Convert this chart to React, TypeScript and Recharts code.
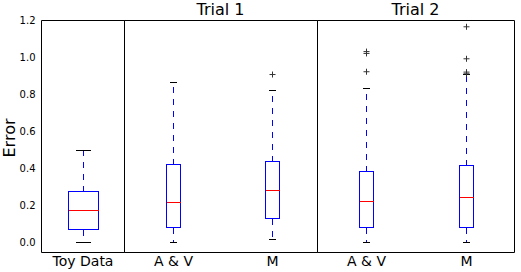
import React from 'react';
import { ComposedChart, Bar, Scatter, XAxis, YAxis } from 'recharts';

const yTicks = [0, 0.2, 0.4, 0.6, 0.8, 1.0, 1.2];
const yDomain = [-0.054, 1.2];

const toyNames = ['Toy Data'];
const toyLow = [0.0];
const toyQ1 = [0.069];
const toyMedian = [0.171];
const toyQ3 = [0.274];
const toyHigh = [0.5];
const toyOutliers: number[][] = [[]];

const trialNames = ['A & V', 'M'];

const trial1Low = [0.0, 0.016];
const trial1Q1 = [0.079, 0.128];
const trial1Median = [0.215, 0.279];
const trial1Q3 = [0.42, 0.436];
const trial1High = [0.863, 0.822];
const trial1Outliers = [[], [0.908]];

const trial2Low = [0.0, 0.0];
const trial2Q1 = [0.079, 0.079];
const trial2Median = [0.22, 0.242];
const trial2Q3 = [0.382, 0.414];
const trial2High = [0.831, 0.906];
const trial2Outliers = [[1.032, 1.022, 0.923], [1.166, 0.993, 0.921, 0.912]];

const makeRows = (names: string[], lo: number[], q1: number[], med: number[], q3: number[], hi: number[]) =>
  names.map((name, i) => ({ name, pos: i + 1, range: [lo[i], hi[i]], lo: lo[i], q1: q1[i], med: med[i], q3: q3[i], hi: hi[i] }));

const makeOutliers = (outliers: number[][]) =>
  outliers.flatMap((vals, i) => vals.map(v => ({ pos: i + 1, name: '', val: v })));

const snap = (v: number) => Math.round(v - 0.5) + 0.5;

const BLUE = '#0000ff';
const RED = '#ff0000';

function BoxShape(props: any) {
  const { x, y, width, height, payload } = props;
  const { lo, q1, med, q3, hi } = payload;
  const py = (v: number) => snap(y + (height * (hi - v)) / (hi - lo));
  const left = snap(x);
  const right = snap(x + width);
  const cx = snap(x + width / 2);
  const cap = width / 4;
  return (
    <g shapeRendering="crispEdges">
      <line x1={cx} x2={cx} y1={py(q3)} y2={py(hi)} stroke={BLUE} strokeWidth={1} strokeDasharray="6 6" />
      <line x1={cx} x2={cx} y1={py(q1)} y2={py(lo)} stroke={BLUE} strokeWidth={1} strokeDasharray="6 6" />
      <line x1={cx - cap} x2={cx + cap} y1={py(hi)} y2={py(hi)} stroke="#000" strokeWidth={1} />
      <line x1={cx - cap} x2={cx + cap} y1={py(lo)} y2={py(lo)} stroke="#000" strokeWidth={1} />
      <rect x={left} y={py(q3)} width={right - left} height={py(q1) - py(q3)} fill="none" stroke={BLUE} strokeWidth={1} />
      <line x1={left} x2={right} y1={py(med)} y2={py(med)} stroke={RED} strokeWidth={1} />
    </g>
  );
}

function PlusShape(props: any) {
  const { cx, cy } = props;
  return <path d={`M${cx - 3},${cy}h6M${cx},${cy - 3}v6`} stroke="#333" strokeWidth={1} fill="none" />;
}

const axisStroke = { stroke: '#000' };

function Panel(props: any) {
  const { left, width, margin, rows, outliers, names, numeric, xDomain, barSize, showY } = props;
  const xProps: any = numeric
    ? { type: 'number', dataKey: 'pos', domain: xDomain, ticks: [1, 2], allowDataOverflow: true }
    : { type: 'category', dataKey: 'name' };
  return (
    <div style={{ position: 'absolute', left, top: 0 }}>
      <ComposedChart width={width} height={272} data={rows} margin={margin}>
        <XAxis
          xAxisId="B"
          {...xProps}
          orientation="bottom"
          height={19.5}
          axisLine={false}
          tickLine={false}
          tickSize={0}
          tickMargin={4}
          tickFormatter={(v: any) => (numeric ? names[v - 1] : v)}
          tick={{ fill: '#000', fontSize: 14 }}
        />
        <XAxis xAxisId="BM" {...xProps} orientation="bottom" mirror tick={false} tickSize={4} axisLine={axisStroke} tickLine={axisStroke} />
        <XAxis xAxisId="TM" {...xProps} orientation="top" mirror tick={false} tickSize={4} axisLine={axisStroke} tickLine={axisStroke} />
        {showY && (
          <YAxis
            yAxisId="lab"
            orientation="left"
            width={41.5}
            type="number"
            domain={yDomain}
            ticks={yTicks}
            allowDataOverflow
            axisLine={false}
            tickLine={false}
            tickSize={0}
            tickMargin={6}
            tickFormatter={(v: number) => v.toFixed(1)}
            tick={{ fill: '#000', fontSize: 10 }}
          />
        )}
        <YAxis yAxisId="L" orientation="left" mirror type="number" domain={yDomain} ticks={yTicks} allowDataOverflow tick={false} tickSize={4} axisLine={axisStroke} tickLine={axisStroke} />
        <YAxis yAxisId="R" orientation="right" mirror type="number" domain={yDomain} ticks={yTicks} allowDataOverflow tick={false} tickSize={4} axisLine={axisStroke} tickLine={axisStroke} />
        <Bar xAxisId="B" yAxisId="L" dataKey="range" barSize={barSize} shape={(p: any) => <BoxShape {...p} />} isAnimationActive={false} />
        {outliers.length > 0 && (
          <Scatter xAxisId="B" yAxisId="L" data={outliers} dataKey="val" shape={(p: any) => <PlusShape {...p} />} isAnimationActive={false} />
        )}
      </ComposedChart>
    </div>
  );
}

const titleStyle: React.CSSProperties = {
  position: 'absolute',
  top: 1.5,
  fontSize: 16,
  lineHeight: '16px',
  textAlign: 'center',
  color: '#000',
};

export default function App() {
  return (
    <div style={{ position: 'absolute', left: 0, top: 0, width: 521, height: 272, background: '#fff', fontFamily: '"DejaVu Sans", sans-serif', overflow: 'hidden' }}>
      <Panel
        left={0}
        width={130}
        margin={{ top: 20.5, right: 5.5, left: 0, bottom: 0 }}
        rows={makeRows(toyNames, toyLow, toyQ1, toyMedian, toyQ3, toyHigh)}
        outliers={makeOutliers(toyOutliers)}
        names={toyNames}
        numeric={false}
        barSize={30}
        showY
      />
      <Panel
        left={118}
        width={206}
        margin={{ top: 20.5, right: 6.5, left: 6.5, bottom: 0 }}
        rows={makeRows(trialNames, trial1Low, trial1Q1, trial1Median, trial1Q3, trial1High)}
        outliers={makeOutliers(trial1Outliers)}
        names={trialNames}
        numeric
        xDomain={[0.5051, 2.4545]}
        barSize={14}
      />
      <Panel
        left={311}
        width={210}
        margin={{ top: 20.5, right: 6.5, left: 6.5, bottom: 0 }}
        rows={makeRows(trialNames, trial2Low, trial2Q1, trial2Median, trial2Q3, trial2High)}
        outliers={makeOutliers(trial2Outliers)}
        names={trialNames}
        numeric
        xDomain={[0.51, 2.48]}
        barSize={14}
      />
      <div style={{ ...titleStyle, left: 124, width: 193 }}>Trial 1</div>
      <div style={{ ...titleStyle, left: 317, width: 197 }}>Trial 2</div>
      <div
        style={{
          position: 'absolute',
          left: 9.5 - 30,
          top: 137.5 - 10,
          width: 60,
          height: 20,
          lineHeight: '20px',
          fontSize: 16,
          textAlign: 'center',
          transform: 'rotate(-90deg)',
          color: '#000',
        }}
      >
        Error
      </div>
    </div>
  );
}
